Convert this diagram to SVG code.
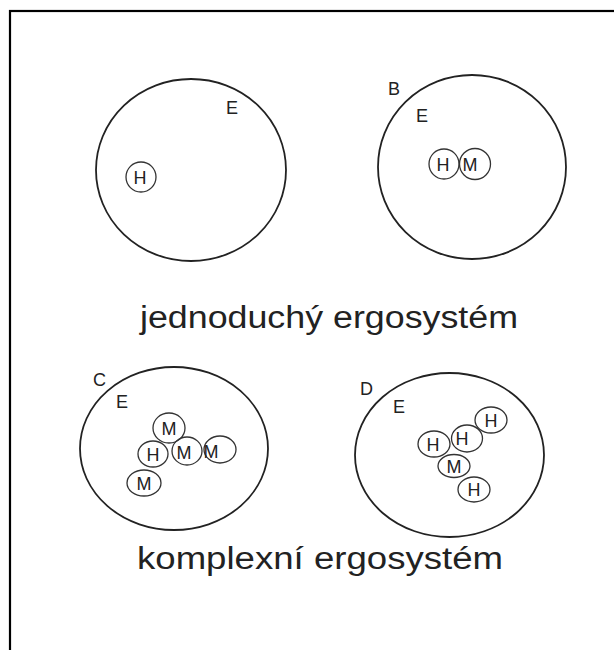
<svg xmlns="http://www.w3.org/2000/svg" width="614" height="650" viewBox="0 0 614 650">
<style>
.big{fill:none;stroke:#222;stroke-width:1.8}
.sm{fill:none;stroke:#333;stroke-width:1.3}
.lbl{font-family:"Liberation Sans",Arial,sans-serif;font-size:18px;fill:#222}
.in{font-family:"Liberation Sans",Arial,sans-serif;font-size:18px;fill:#222;text-anchor:middle}
.cap{font-family:"Liberation Sans",Arial,sans-serif;font-size:31px;fill:#222}
</style>
<rect x="0" y="0" width="614" height="650" fill="#fff"/>
<rect x="10" y="11" width="640" height="680" fill="none" stroke="#000" stroke-width="2.2"/>

<g id="systemA">
<ellipse class="big" cx="191" cy="170" rx="95" ry="91"/>
<text class="lbl" x="226" y="114">E</text>
<circle class="sm" cx="141" cy="177" r="15"/>
<text class="in" x="140" y="183.5">H</text>
</g>

<g id="systemB">
<ellipse class="big" cx="472" cy="167" rx="94" ry="92"/>
<text class="lbl" x="388" y="95">B</text>
<text class="lbl" x="416" y="122">E</text>
<circle class="sm" cx="444" cy="164" r="15"/>
<circle class="sm" cx="475" cy="164" r="15.5"/>
<text class="in" x="443" y="170.5">H</text>
<text class="in" x="470" y="170.5">M</text>
</g>

<text class="cap" x="140" y="328" textLength="378" lengthAdjust="spacingAndGlyphs">jednoduchý ergosystém</text>

<g id="systemC">
<ellipse class="big" cx="174" cy="448.5" rx="94" ry="81.5"/>
<text class="lbl" x="93" y="386">C</text>
<text class="lbl" x="116" y="408">E</text>
<ellipse class="sm" cx="169" cy="428" rx="16" ry="15"/>
<text class="in" x="169" y="434.5">M</text>
<ellipse class="sm" cx="153" cy="454" rx="15" ry="13"/>
<text class="in" x="153" y="460.5">H</text>
<ellipse class="sm" cx="187" cy="451" rx="15" ry="14"/>
<text class="in" x="184" y="459">M</text>
<ellipse class="sm" cx="220" cy="449.5" rx="16" ry="13.5"/>
<text class="in" x="211" y="458">M</text>
<ellipse class="sm" cx="144" cy="483" rx="17" ry="13"/>
<text class="in" x="144" y="489.5">M</text>
</g>

<g id="systemD">
<ellipse class="big" cx="449.5" cy="455" rx="94.5" ry="82"/>
<text class="lbl" x="360" y="395">D</text>
<text class="lbl" x="393" y="413">E</text>
<ellipse class="sm" cx="491" cy="420" rx="16" ry="13"/>
<text class="in" x="491" y="426.5">H</text>
<ellipse class="sm" cx="467" cy="438.5" rx="15.5" ry="13.5"/>
<text class="in" x="462" y="445">H</text>
<ellipse class="sm" cx="434" cy="444" rx="16" ry="13"/>
<text class="in" x="433" y="450.5">H</text>
<ellipse class="sm" cx="454" cy="466" rx="16" ry="11.5"/>
<text class="in" x="454" y="472.5">M</text>
<ellipse class="sm" cx="474" cy="489.5" rx="16" ry="12.5"/>
<text class="in" x="474" y="496">H</text>
</g>

<text class="cap" x="137" y="569" textLength="366" lengthAdjust="spacingAndGlyphs">komplexní ergosystém</text>

<g id="connectors"></g>
</svg>
